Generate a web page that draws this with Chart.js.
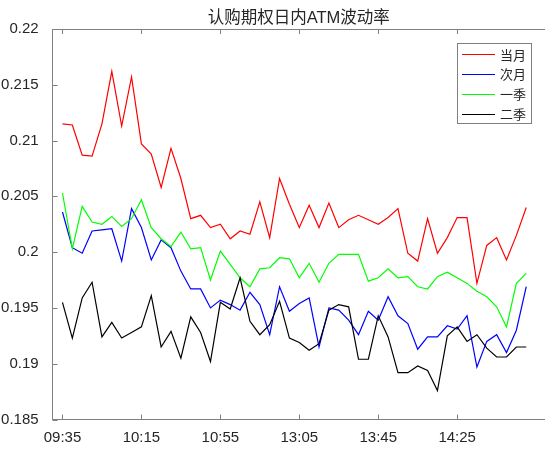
<!DOCTYPE html>
<html>
<head>
<meta charset="utf-8">
<script src="https://cdn.jsdelivr.net/npm/chart.js@4/dist/chart.umd.min.js"></script>
<style>
  html, body { margin: 0; padding: 0; background: #ffffff; }
  #wrap { width: 545px; height: 449px; }
</style>
</head>
<body>
<div id="wrap"><canvas id="c" width="545" height="449"></canvas></div>
<script>
// 5-minute sampling times of the trading day (morning + afternoon session)
const times = [
  '09:35','09:40','09:45','09:50','09:55','10:00','10:05','10:10',
  '10:15','10:20','10:25','10:30','10:35','10:40','10:45','10:50',
  '10:55','11:00','11:05','11:10','11:15','11:20','11:25','11:30',
  '13:05','13:10','13:15','13:20','13:25','13:30','13:35','13:40',
  '13:45','13:50','13:55','14:00','14:05','14:10','14:15','14:20',
  '14:25','14:30','14:35','14:40','14:45','14:50','14:55','15:00'
];
const tickLabels = ['09:35','10:15','10:55','13:05','13:45','14:25'];
const yTicks = [0.185, 0.19, 0.195, 0.2, 0.205, 0.21, 0.215, 0.22];
const seriesNames = ['当月', '次月', '一季', '二季'];
const seriesColors = ['#ff0000', '#0000ff', '#00ff00', '#000000'];

// ATM implied volatility of call options, by expiry
const frontMonth = [
  0.2115,0.2114,0.2087,0.2086,0.2115,0.2162,0.2113,0.2157,0.2097,0.2088,0.2058,0.2093,
  0.2066,0.2030,0.2033,0.2022,0.2025,0.2012,0.2019,0.2016,0.2045,0.2013,0.2066,0.2043,
  0.2022,0.2042,0.2022,0.2044,0.2022,0.2029,0.2033,0.2029,0.2025,0.2031,0.2039,0.1999,
  0.1992,0.2030,0.1999,0.2013,0.2031,0.2031,0.1972,0.2006,0.2013,0.1993,0.2015,0.2040
];
const nextMonth = [
  0.2036,0.2004,0.1999,0.2019,0.2020,0.2021,0.1992,0.2039,0.2022,0.1993,0.2011,0.2004,
  0.1983,0.1967,0.1967,0.1950,0.1957,0.1953,0.1948,0.1964,0.1953,0.1926,0.1969,0.1947,
  0.1954,0.1959,0.1915,0.1950,0.1948,0.1939,0.1926,0.1947,0.1939,0.1960,0.1943,0.1936,
  0.1913,0.1924,0.1924,0.1934,0.1931,0.1943,0.1897,0.1920,0.1926,0.1910,0.1930,0.1969
];
const firstQuarter = [
  0.2053,0.2003,0.2041,0.2027,0.2025,0.2032,0.2023,0.2030,0.2047,0.2022,0.2012,0.2005,
  0.2018,0.2003,0.2004,0.1975,0.2001,0.1989,0.1977,0.1969,0.1985,0.1986,0.1995,0.1994,
  0.1977,0.1990,0.1973,0.1990,0.1998,0.1998,0.1998,0.1974,0.1977,0.1985,0.1977,0.1978,
  0.1969,0.1967,0.1978,0.1982,0.1977,0.1972,0.1965,0.1960,0.1951,0.1933,0.1972,0.1981
];
const secondQuarter = [
  0.1955,0.1923,0.1959,0.1973,0.1924,0.1937,0.1923,0.1928,0.1933,0.1961,0.1915,0.1929,
  0.1905,0.1942,0.1928,0.1902,0.1955,0.1949,0.1977,0.1938,0.1926,0.1935,0.1956,0.1923,
  0.1919,0.1912,0.1918,0.1948,0.1953,0.1951,0.1904,0.1904,0.1943,0.1924,0.1892,0.1892,
  0.1898,0.1894,0.1876,0.1925,0.1933,0.1920,0.1926,0.1914,0.1906,0.1906,0.1915,0.1915
];

const FONT = "'Liberation Sans', 'Noto Sans CJK SC', sans-serif";
const AXIS_COLOR = '#808080';
const TEXT_COLOR = '#262626';

const allSeries = [frontMonth, nextMonth, firstQuarter, secondQuarter];

const datasets = allSeries.map((vals, k) => ({
  label: seriesNames[k],
  data: vals.map((v, i) => ({ x: i, y: v })),
  borderColor: seriesColors[k],
  backgroundColor: seriesColors[k],
  borderWidth: 1.2,
  pointRadius: 0,
  tension: 0,
  fill: false,
  order: allSeries.length - k
}));

// Inward tick marks and the top frame line
const frameTicks = {
  id: 'frameTicks',
  afterDatasetsDraw(chart) {
    const { ctx, chartArea: a, scales: { x, y } } = chart;
    const len = 5;
    ctx.save();
    ctx.strokeStyle = AXIS_COLOR;
    ctx.lineWidth = 1;
    ctx.beginPath();
    ctx.moveTo(a.left, Math.round(a.top) + 0.5);
    ctx.lineTo(a.right, Math.round(a.top) + 0.5);
    x.ticks.forEach(t => {
      const px = Math.round(x.getPixelForValue(t.value)) + 0.5;
      ctx.moveTo(px, a.bottom);
      ctx.lineTo(px, a.bottom - len);
      ctx.moveTo(px, a.top);
      ctx.lineTo(px, a.top + len);
    });
    y.ticks.forEach(t => {
      const py = Math.round(y.getPixelForValue(t.value)) + 0.5;
      ctx.moveTo(a.left, py);
      ctx.lineTo(a.left + len, py);
    });
    ctx.stroke();
    ctx.restore();
  }
};

// Boxed legend in the upper-right corner of the plot
const boxLegend = {
  id: 'boxLegend',
  afterDraw(chart) {
    const { ctx } = chart;
    const box = { left: 457.5, top: 43.5, right: 531.5, bottom: 123.5 };
    const rowY = [54.3, 74, 94, 113.7];
    ctx.save();
    ctx.fillStyle = '#ffffff';
    ctx.fillRect(box.left, box.top, box.right - box.left, box.bottom - box.top);
    ctx.strokeStyle = AXIS_COLOR;
    ctx.lineWidth = 1;
    ctx.strokeRect(box.left, box.top, box.right - box.left, box.bottom - box.top);
    chart.data.datasets.forEach((ds, k) => {
      const yy = Math.round(rowY[k]) + 0.5;
      ctx.strokeStyle = ds.borderColor;
      ctx.beginPath();
      ctx.moveTo(462, yy);
      ctx.lineTo(495, yy);
      ctx.stroke();
      ctx.fillStyle = TEXT_COLOR;
      ctx.font = "13px 'Noto Sans CJK SC', sans-serif";
      ctx.textBaseline = 'middle';
      ctx.textAlign = 'left';
      ctx.fillText(ds.label, 500, rowY[k] + 0.5);
    });
    ctx.restore();
  }
};

new Chart(document.getElementById('c'), {
  type: 'line',
  data: { datasets },
  options: {
    responsive: false,
    animation: false,
    devicePixelRatio: 1,
    layout: { padding: { left: 0, right: 0, top: 0, bottom: 0 } },
    plugins: {
      legend: { display: false },
      tooltip: { enabled: false },
      title: {
        display: true,
        text: '认购期权日内ATM波动率',
        fullSize: false,
        color: TEXT_COLOR,
        font: { family: FONT, size: 16.5, weight: 'normal' },
        padding: { top: 8.3, bottom: 0.9 }
      }
    },
    scales: {
      x: {
        type: 'linear',
        min: -1,
        max: 48.9,
        afterBuildTicks: s => { s.ticks = tickLabels.map(t => ({ value: times.indexOf(t) })); },
        afterFit: s => { s.height = 29.5; },
        ticks: {
          autoSkip: false,
          maxRotation: 0,
          padding: 1,
          color: TEXT_COLOR,
          font: { family: FONT, size: 15 },
          callback: v => times[v]
        },
        grid: { display: false },
        border: { display: true, color: AXIS_COLOR, width: 1 }
      },
      y: {
        min: 0.185,
        max: 0.22,
        afterBuildTicks: s => { s.ticks = yTicks.map(v => ({ value: v })); },
        afterFit: s => { s.width = 52.6; },
        ticks: {
          padding: 6,
          color: TEXT_COLOR,
          font: { family: FONT, size: 15 },
          callback: v => String(Number(v.toFixed(3)))
        },
        grid: { display: false },
        border: { display: true, color: AXIS_COLOR, width: 1 }
      }
    }
  },
  plugins: [frameTicks, boxLegend]
});
</script>
</body>
</html>
